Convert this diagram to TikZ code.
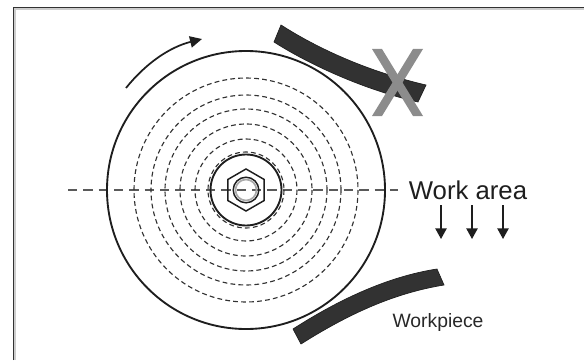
\documentclass[tikz,border=0pt]{standalone}
\usepackage{fontspec}
\setmainfont{Liberation Sans}
\usetikzlibrary{arrows.meta}
\tikzset{
  wheelline/.style={line width=1.4pt,color={rgb,255:red,30;green,30;blue,30}},
  groove/.style={line width=0.85pt,color={rgb,255:red,50;green,50;blue,50},dash pattern={on 3.6pt off 2.4pt}},
  workshoe/.style={draw={rgb,255:red,30;green,30;blue,30},fill={rgb,255:red,50;green,50;blue,50},line width=0.5pt},
  crossbar/.style={fill={rgb,255:red,140;green,140;blue,140}},
  downarrow/.style={line width=1.1pt,color={rgb,255:red,30;green,30;blue,30},-{Triangle[width=8.5pt,length=8pt]}},
}
\begin{document}
\begin{tikzpicture}[x=0.75pt,y=0.75pt,yscale=-1,xscale=1]
  \useasboundingbox (0,0) rectangle (584,360);
  %frame
  \draw [line width=1.9pt,color={rgb,255:red,205;green,205;blue,205}] (14.5,360) -- (14.5,8.5) -- (584,8.5) ;
  \draw [line width=1.1pt,color={rgb,255:red,50;green,50;blue,50}] (13.5,360) -- (13.5,7.5) -- (584,7.5) ;
  %centre line
  \draw [line width=0.8pt,color={rgb,255:red,90;green,90;blue,90},dash pattern={on 7pt off 4.5pt}] (68,190) -- (398,190) ;
  %grooves
  \foreach \r in {38,51,66,81,95,112}
    \draw [groove] (246,190) circle [radius=\r] ;
  %wheel
  \draw [wheelline] (246,190) circle [radius=139] ;
  \draw [wheelline] (246,190) circle [radius=35.5] ;
  %hub
  \draw [wheelline,line width=1.1pt] (246,169) -- (264.2,179.5) -- (264.2,200.5) -- (246,211) -- (227.8,200.5) -- (227.8,179.5) -- cycle ;
  \draw [wheelline,line width=1.1pt] (246,190) circle [radius=12.8] ;
  \draw [line width=1.3pt,color={rgb,255:red,170;green,170;blue,170}] (246,190) circle [radius=10.5] ;
  %rotation arrow
  \draw [line width=1.3pt,color={rgb,255:red,30;green,30;blue,30},-{Triangle[width=8.5pt,length=9pt]}] (126,88) .. controls (146,63) and (170,47) .. (202,39) ;
  %upper shoe
  \draw [workshoe] (281,25) .. controls (320,50) and (370,72) .. (426,85) -- (418,102) .. controls (365,90) and (310,65) .. (274,42) -- cycle ;
  \fill [crossbar] (372,49) -- (382,49) -- (423,116) -- (413,116) -- cycle ;
  \fill [crossbar] (413,49) -- (423,49) -- (382,116) -- (372,116) -- cycle ;
  %lower shoe
  \draw [workshoe] (293,329) .. controls (335,302) and (385,277) .. (437,269) -- (444,285) .. controls (395,293) and (350,313) .. (301,344) -- cycle ;
  %work area
  \node (workarea) [anchor=center,inner sep=0,font=\fontsize{19.3}{22}\selectfont,color={rgb,255:red,30;green,30;blue,30}] at (468,190) {Work area};
  \node (workpiece) [anchor=center,inner sep=0,font=\fontsize{14.5}{16}\selectfont,color={rgb,255:red,40;green,40;blue,40}] at (438,322) {Workpiece};
  \foreach \x in {441,472,503}
    \draw [downarrow] (\x,205) -- (\x,239) ;
\end{tikzpicture}
\end{document}
